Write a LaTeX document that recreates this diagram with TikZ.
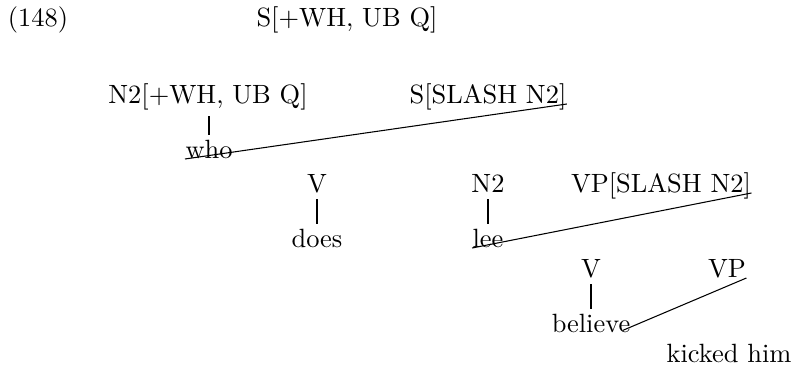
\documentclass[tikz,border=0pt]{standalone}
\usetikzlibrary{positioning}
\begin{document}
\begin{tikzpicture}[
  x=0.0133cm, y=-0.0133cm,
  cat/.style={inner xsep=0pt, inner ysep=2pt, anchor=base},
  wrd/.style={inner xsep=0pt, inner ysep=2pt, anchor=base},
  stem/.style={line width=0.9pt},
  link/.style={line width=0.4pt}
]
  \useasboundingbox (0,0) rectangle (792,368);

  %--- Example number and root ---
  \node[cat] (num)  at (38, 27)  {(148)};
  \node[cat] (root) at (347, 27) {S[+WH, UB Q]};

  %--- First level ---
  \node[cat] (n2wh)   at (208, 104) {N2[+WH, UB Q]};
  \node[cat] (sslash) at (488, 104) {S[SLASH N2]};
  \node[wrd] (who)    at (209, 159) {who};

  %--- Second level ---
  \node[cat] (v1)      at (317, 193) {V};
  \node[cat] (n2)      at (488, 193) {N2};
  \node[cat] (vpslash) at (661, 193) {VP[SLASH N2]};
  \node[wrd] (does)    at (317, 248) {does};
  \node[wrd] (lee)     at (488, 248) {lee};

  %--- Third level ---
  \node[cat] (v2)      at (591, 278) {V};
  \node[cat] (vp)      at (727, 278) {VP};
  \node[wrd] (believe) at (591, 333) {believe};
  \node[wrd] (kicked)  at (729, 363) {kicked him};

  % Stems
  \foreach \c/\w in {n2wh/who, v1/does, n2/lee, v2/believe}{
    \draw[stem] (\w.north) -- (\w.north |- \c.south);
  }
  % Slanted links
  \draw[link] (who.base west) -- (sslash.base east);
  \draw[link] (lee.base west) -- (vpslash.base east);
  \draw[link] ([shift={(-3pt,1pt)}]believe.base east) -- (vp.base east);

\end{tikzpicture}
\end{document}
